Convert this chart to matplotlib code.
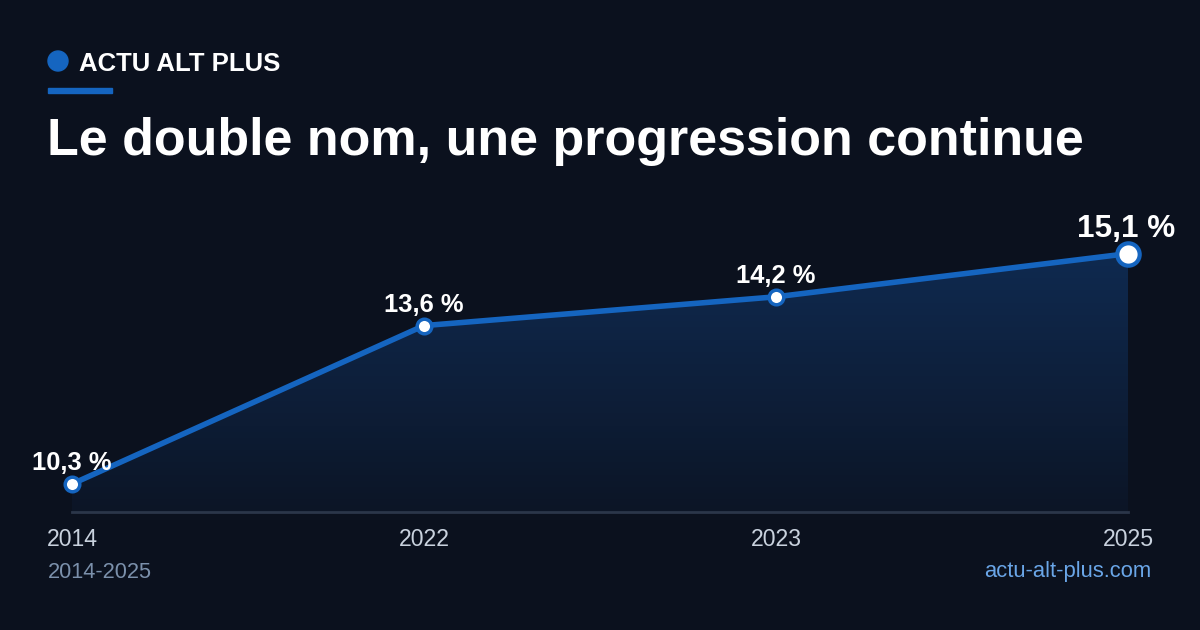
import matplotlib
matplotlib.use("Agg")
import matplotlib.pyplot as plt
import numpy as np
from matplotlib.patches import Circle, Rectangle
from matplotlib.colors import LinearSegmentedColormap

plt.rcParams['font.family'] = ['Liberation Sans', 'DejaVu Sans']

years = ["2014", "2022", "2023", "2025"]
values = [10.3, 13.6, 14.2, 15.1]
labels = ["10,3 %", "13,6 %", "14,2 %", "15,1 %"]

bg = "#0b111e"
blue = "#1565c0"

W, H = 1200, 630
fig = plt.figure(figsize=(12, 6.3), dpi=100, facecolor=bg)

def fs(p):
    # pixel height -> points at 100 dpi
    return p * 0.72

# header / footer
hdr = fig.add_axes([0, 0, 1, 1], facecolor="none")
hdr.set_xlim(0, W)
hdr.set_ylim(H, 0)
hdr.axis("off")
hdr.add_patch(Circle((58, 61), 10, color=blue))
hdr.add_patch(Rectangle((48, 88), 64, 5, color=blue))
hdr.text(79, 64, "ACTU ALT PLUS", color="white", fontsize=fs(25.8), fontweight="bold", va="center")
hdr.text(47, 141, "Le double nom, une progression continue", color="white", fontsize=fs(52),
         fontweight="bold", va="center")
hdr.text(48, 572, "2014-2025", color="#7b90ab", fontsize=fs(21.8), va="center")
hdr.text(1151, 572, "actu-alt-plus.com", color="#6aa6e8", fontsize=fs(22), va="center", ha="right")

# chart area
ymin = 10.3 - 28 / 48
ymax = ymin + 312 / 48
x0, x1 = 72, 1128
ax = fig.add_axes([x0 / W, (H - 512) / H, (x1 - x0) / W, 312 / H], facecolor="none")
xs = np.arange(len(years))
ax.set_xlim(0, len(years) - 1)
ax.set_ylim(ymin, ymax)
ax.axis("off")

# gradient fill under the line
cmap = LinearSegmentedColormap.from_list("g", ["#0c1526", "#0f2a50"])
grad = np.linspace(0, 1, 256).reshape(-1, 1)
im = ax.imshow(grad, extent=[0, len(years) - 1, ymin, max(values)], origin="lower",
               aspect="auto", cmap=cmap, zorder=1)
poly = ax.fill_between(xs, values, ymin, color="none")
im.set_clip_path(poly.get_paths()[0], transform=ax.transData)

ax.axhline(ymin, color="#2b3649", lw=2, zorder=2, clip_on=False)
ax.plot(xs, values, color=blue, lw=4, zorder=3, solid_capstyle="round", clip_on=False)
ax.scatter(xs[:-1], values[:-1], s=110, facecolor="white", edgecolor=blue, linewidth=2.5, zorder=4,
           clip_on=False)
ax.scatter(xs[-1:], values[-1:], s=260, facecolor="white", edgecolor=blue, linewidth=3, zorder=4,
           clip_on=False)

for i, (v, lab) in enumerate(zip(values, labels)):
    big = i == len(values) - 1
    ax.annotate(lab, (xs[i], v), xytext=(-2 if big else 0, 25 if big else 21), textcoords="offset pixels",
                ha="center", va="center", color="white", fontweight="bold",
                fontsize=fs(31.5 if big else 25.5), zorder=5, annotation_clip=False)

for i, y in enumerate(years):
    ax.annotate(y, (xs[i], ymin), xytext=(0, -27), textcoords="offset pixels",
                ha="center", va="center", color="#c9d2de", fontsize=fs(23), annotation_clip=False)

fig.savefig("out.png", dpi=100, facecolor=bg)
